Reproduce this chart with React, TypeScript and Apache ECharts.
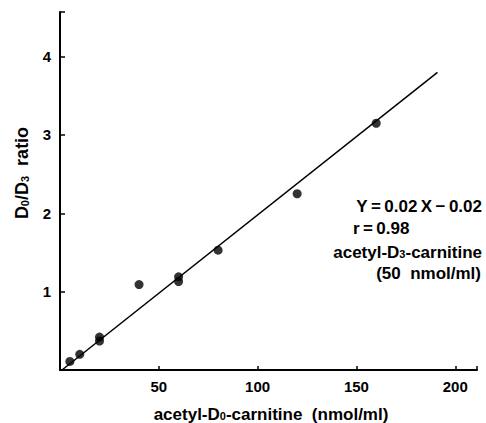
import React, { useEffect, useRef } from "react";
import * as echarts from "echarts";

const concentrations = [5, 10, 20, 20, 40, 60, 60, 80, 120, 160];
const ratios = [0.11, 0.2, 0.42, 0.37, 1.09, 1.19, 1.13, 1.53, 2.25, 3.15];
const fitX = [1, 191];
const fitY = [0, 3.8];
const xTickLabels = [50, 100, 150, 200];
const yTickLabels = [1, 2, 3, 4];

const FONT = "'Liberation Sans', Arial, sans-serif";
const T = "\u2009";

export default function App() {
  const ref = useRef<HTMLDivElement>(null);
  useEffect(() => {
    if (!ref.current) return;
    const chart = echarts.init(ref.current, null, { renderer: "svg" });
    chart.setOption({
      animation: false,
      backgroundColor: "#fff",
      grid: { left: 60, top: 12, right: 9, bottom: 53 },
      xAxis: {
        type: "value",
        min: 0,
        max: 211,
        interval: 50,
        axisLine: { lineStyle: { color: "#000", width: 2 } },
        axisTick: { inside: true, length: 4, lineStyle: { color: "#000", width: 1.5 } },
        splitLine: { show: false },
        axisLabel: {
          color: "#000",
          fontSize: 15,
          fontWeight: "bold",
          fontFamily: FONT,
          margin: 9,
          formatter: (v: number) => (xTickLabels.includes(v) ? String(v) : ""),
        },
      },
      yAxis: {
        type: "value",
        min: 0,
        max: 4.57,
        interval: 1,
        axisLine: { lineStyle: { color: "#000", width: 2 } },
        axisTick: { inside: true, length: 5, lineStyle: { color: "#000", width: 1.5 } },
        splitLine: { show: false },
        axisLabel: {
          color: "#000",
          fontSize: 15,
          fontWeight: "bold",
          fontFamily: FONT,
          margin: 9,
          formatter: (v: number) => (yTickLabels.includes(v) ? String(v) : ""),
        },
      },
      series: [
        {
          type: "line",
          data: fitX.map((x, i) => [x, fitY[i]]),
          showSymbol: false,
          lineStyle: { color: "#000", width: 1.5 },
          silent: true,
        },
        {
          type: "scatter",
          data: concentrations.map((x, i) => [x, ratios[i]]),
          symbol: "circle",
          symbolSize: 9,
          itemStyle: { color: "#000" },
        },
      ],
      graphic: [
        {
          type: "text",
          x: 22,
          y: 173,
          rotation: Math.PI / 2,
          style: {
            text: "{b|D}{s|0}{b|/D}{s|3}{b|  ratio}",
            align: "center",
            verticalAlign: "middle",
            rich: {
              b: { fontSize: 18, fontWeight: "bold", fontFamily: FONT, fill: "#000" },
              s: { fontSize: 11, fontWeight: "bold", fontFamily: FONT, fill: "#000", padding: [6, 0, 0, 0] },
            },
          },
        },
        {
          type: "text",
          x: 271,
          y: 414,
          style: {
            text: "{b|acetyl-D}{s|0}{b|-carnitine  (nmol/ml)}",
            align: "center",
            verticalAlign: "middle",
            rich: {
              b: { fontSize: 17, fontWeight: "bold", fontFamily: FONT, fill: "#000" },
              s: { fontSize: 11, fontWeight: "bold", fontFamily: FONT, fill: "#000", padding: [3, 0, 0, 0] },
            },
          },
        },
        {
          type: "text",
          x: 482,
          y: 206,
          style: {
            text: `Y${T}=${T}0.02${T}X${T}−${T}0.02`,
            align: "right",
            verticalAlign: "middle",
            fontSize: 17,
            fontWeight: "bold",
            fontFamily: FONT,
            fill: "#000",
          },
        },
        {
          type: "text",
          x: 353,
          y: 228,
          style: {
            text: `r${T}=${T}0.98`,
            align: "left",
            verticalAlign: "middle",
            fontSize: 17,
            fontWeight: "bold",
            fontFamily: FONT,
            fill: "#000",
          },
        },
        {
          type: "text",
          x: 482,
          y: 252,
          style: {
            text: "{b|acetyl-D}{s|3}{b|-carnitine}",
            align: "right",
            verticalAlign: "middle",
            rich: {
              b: { fontSize: 17, fontWeight: "bold", fontFamily: FONT, fill: "#000" },
              s: { fontSize: 11, fontWeight: "bold", fontFamily: FONT, fill: "#000", padding: [3, 0, 0, 0] },
            },
          },
        },
        {
          type: "text",
          x: 481,
          y: 273,
          style: {
            text: "(50  nmol/ml)",
            align: "right",
            verticalAlign: "middle",
            fontSize: 17,
            fontWeight: "bold",
            fontFamily: FONT,
            fill: "#000",
          },
        },
      ],
    });
    return () => chart.dispose();
  }, []);
  return <div ref={ref} style={{ width: 486, height: 423, position: "absolute", left: 0, top: 0 }} />;
}
